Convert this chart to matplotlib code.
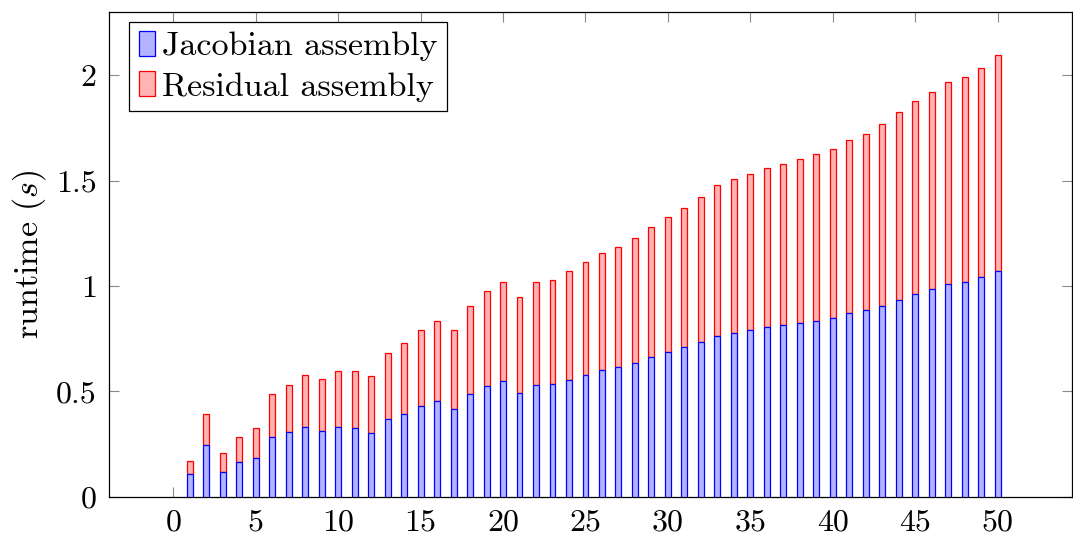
import numpy as np
import matplotlib
matplotlib.use("Agg")
import matplotlib.pyplot as plt

plt.rcParams['font.family'] = ['cmr10', 'DejaVu Serif']
plt.rcParams['mathtext.fontset'] = 'cm'
plt.rcParams['axes.formatter.use_mathtext'] = True

steps = list(range(1, 51))
jacobian = [0.106, 0.244, 0.116, 0.163, 0.182, 0.283, 0.307, 0.332, 0.313, 0.332,
            0.326, 0.304, 0.367, 0.393, 0.430, 0.452, 0.415, 0.486, 0.525, 0.548,
            0.494, 0.532, 0.533, 0.555, 0.576, 0.600, 0.614, 0.635, 0.663, 0.687,
            0.710, 0.734, 0.761, 0.777, 0.791, 0.804, 0.813, 0.826, 0.835, 0.847,
            0.870, 0.885, 0.907, 0.935, 0.961, 0.984, 1.008, 1.019, 1.041, 1.069]
residual = [0.065, 0.147, 0.090, 0.122, 0.143, 0.203, 0.222, 0.244, 0.246, 0.266,
            0.272, 0.270, 0.314, 0.335, 0.363, 0.384, 0.375, 0.418, 0.450, 0.471,
            0.455, 0.488, 0.494, 0.515, 0.536, 0.557, 0.570, 0.591, 0.619, 0.639,
            0.662, 0.686, 0.717, 0.730, 0.742, 0.755, 0.765, 0.777, 0.790, 0.802,
            0.822, 0.837, 0.860, 0.891, 0.917, 0.937, 0.960, 0.973, 0.994, 1.027]

xticks = list(range(0, 51, 5))
yticks = [0, 0.5, 1, 1.5, 2]
ytick_labels = ['0', '0.5', '1', '1.5', '2']

fs = 23
fs_big = 24.5
fig = plt.figure(figsize=(10.73, 5.35), dpi=100)
ax = fig.add_axes([0.1019, 0.0716, 0.897, 0.906])

w = 0.36
ax.bar(steps, jacobian, width=w, color='#b3b3ff', edgecolor='blue', linewidth=0.9,
       label='Jacobian assembly', zorder=3)
ax.bar(steps, residual, width=w, bottom=jacobian, color='#ffb3b3', edgecolor='red',
       linewidth=0.9, label='Residual assembly', zorder=2)

ax.set_xlim(-3.88, 54.5)
ax.set_ylim(0, 2.3)
ax.set_xticks(xticks)
ax.set_xticklabels([str(t) for t in xticks])
ax.set_yticks(yticks)
ax.set_yticklabels(ytick_labels)
ax.tick_params(direction='in', length=7, width=0.8, color='#888888',
               top=True, right=True, labelsize=fs, pad=9)
for s in ax.spines.values():
    s.set_linewidth(0.9)

ax.set_ylabel('runtime ($s$)', fontsize=fs_big, labelpad=6)

leg = ax.legend(loc='upper left', bbox_to_anchor=(0.0208, 0.98), borderaxespad=0,
                fontsize=fs_big, fancybox=False, framealpha=1, edgecolor='black',
                handlelength=0.47, handleheight=0.75, handletextpad=0.22,
                labelspacing=0.3, borderpad=0.27)
leg.get_frame().set_linewidth(0.9)

fig.savefig('out.png', dpi=100)
